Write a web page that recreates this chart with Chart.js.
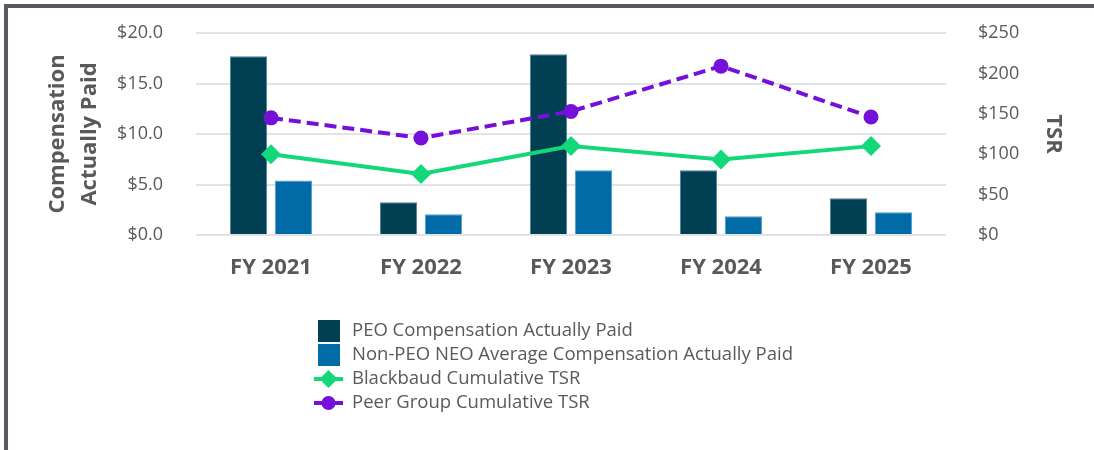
<!DOCTYPE html>
<html>
<head>
<meta charset="utf-8">
<script src="https://cdn.jsdelivr.net/npm/chart.js@4.4.0/dist/chart.umd.min.js"></script>
<style>
  html, body { margin: 0; padding: 0; background: #fff; }
  #wrap { width: 1094px; height: 450px; }
</style>
</head>
<body>
<div id="wrap"><canvas id="chart" width="1094" height="450"></canvas></div>
<script>
// Dados do gráfico
const categories = ['FY 2021', 'FY 2022', 'FY 2023', 'FY 2024', 'FY 2025'];
const peoCap = [17.7, 3.25, 17.9, 6.4, 3.65];
const neoCap = [5.4, 2.05, 6.4, 1.85, 2.25];
const blackbaudTsr = [100, 75.5, 110, 93.5, 110];
const peerTsr = [145, 120, 153, 209, 146];

const seriesLabels = [
    'PEO Compensation Actually Paid',
    'Non-PEO NEO Average Compensation Actually Paid',
    'Blackbaud Cumulative TSR',
    'Peer Group Cumulative TSR'
];
const leftTitle = ['Compensation', 'Actually Paid'];
const rightTitle = 'TSR';

const textColor = '#595959';
const fontFamily = '"Open Sans", sans-serif';

// Moldura cinza (topo e esquerda) e fundo branco
const framePlugin = {
    id: 'frame',
    beforeDraw(chart) {
        const ctx = chart.ctx;
        ctx.save();
        ctx.fillStyle = '#fff';
        ctx.fillRect(0, 0, chart.width, chart.height);
        ctx.fillStyle = '#575b61';
        ctx.fillRect(4, 4, chart.width - 4, 4);
        ctx.fillRect(4, 4, 4, chart.height - 4);
        ctx.restore();
    }
};

// Legenda vertical abaixo do gráfico
const legendPlugin = {
    id: 'stackedLegend',
    afterDraw(chart) {
        const ctx = chart.ctx;
        const x0 = 314;
        const rowY = [331, 355, 379, 403];
        ctx.save();
        ctx.font = '18.5px ' + fontFamily;
        ctx.textBaseline = 'middle';
        chart.data.datasets.forEach((ds, i) => {
            const y = rowY[i];
            if (ds.type === 'bar') {
                ctx.fillStyle = ds.backgroundColor;
                ctx.fillRect(x0 + 4, y - 11, 22, 22);
            } else {
                ctx.strokeStyle = ds.borderColor;
                ctx.lineWidth = 4;
                ctx.setLineDash([]);
                ctx.beginPath();
                ctx.moveTo(x0, y);
                ctx.lineTo(x0 + 29, y);
                ctx.stroke();
                ctx.fillStyle = ds.pointBackgroundColor;
                Chart.helpers.drawPoint(ctx, {
                    pointStyle: ds.pointStyle,
                    radius: ds.pointStyle === 'circle' ? 7 : 9,
                    rotation: 0,
                    borderWidth: 0
                }, x0 + 14.5, y);
            }
            ctx.fillStyle = textColor;
            ctx.fillText(ds.label, 352, y);
        });
        ctx.restore();
    }
};

const ctx = document.getElementById('chart').getContext('2d');
new Chart(ctx, {
    data: {
        labels: categories,
        datasets: [
            {
                type: 'bar',
                label: seriesLabels[0],
                data: peoCap,
                yAxisID: 'y',
                backgroundColor: '#014052',
                borderColor: '#4d7f8f',
                borderWidth: 1,
                categoryPercentage: 0.6,
                barPercentage: 0.83,
                order: 2
            },
            {
                type: 'bar',
                label: seriesLabels[1],
                data: neoCap,
                yAxisID: 'y',
                backgroundColor: '#006ba6',
                borderColor: '#4f9cc6',
                borderWidth: 1,
                categoryPercentage: 0.6,
                barPercentage: 0.83,
                order: 2
            },
            {
                type: 'line',
                label: seriesLabels[2],
                data: blackbaudTsr,
                yAxisID: 'y1',
                borderColor: '#12d87a',
                backgroundColor: '#12d87a',
                pointBackgroundColor: '#12d87a',
                pointBorderWidth: 0,
                borderWidth: 4,
                pointStyle: 'rectRot',
                pointRadius: 10,
                tension: 0,
                order: 1
            },
            {
                type: 'line',
                label: seriesLabels[3],
                data: peerTsr,
                yAxisID: 'y1',
                borderColor: '#7510db',
                backgroundColor: '#7510db',
                pointBackgroundColor: '#7510db',
                pointBorderWidth: 0,
                borderWidth: 4,
                borderDash: [12, 6],
                pointStyle: 'circle',
                pointRadius: 7.5,
                tension: 0,
                order: 0
            }
        ]
    },
    options: {
        responsive: false,
        animation: false,
        devicePixelRatio: 1,
        layout: { padding: { top: 33, bottom: 165, left: 0, right: 0 } },
        plugins: {
            legend: { display: false },
            tooltip: { enabled: false }
        },
        scales: {
            x: {
                grid: { display: false, drawTicks: false },
                border: { display: false },
                ticks: {
                    color: textColor,
                    padding: 20,
                    font: { family: fontFamily, size: 22, weight: 'bold' }
                },
                afterFit: s => { s.height = 50; }
            },
            y: {
                position: 'left',
                min: 0,
                max: 20,
                grid: { color: '#e3e3e3', lineWidth: 2, tickLength: 30, tickColor: 'transparent' },
                border: { display: false },
                ticks: {
                    stepSize: 5,
                    color: textColor,
                    padding: 3,
                    font: { family: fontFamily, size: 18 },
                    callback: v => '$' + v.toFixed(1)
                },
                title: {
                    display: true,
                    text: leftTitle,
                    color: textColor,
                    font: { family: fontFamily, size: 22, weight: 'bold', lineHeight: 1.45 },
                    padding: { top: 42, bottom: 0 }
                },
                afterFit: s => { s.width = 196; }
            },
            y1: {
                position: 'right',
                min: 0,
                max: 250,
                grid: { display: false, tickLength: 29, tickColor: 'transparent' },
                border: { display: false },
                ticks: {
                    stepSize: 50,
                    color: textColor,
                    padding: 3,
                    font: { family: fontFamily, size: 18 },
                    callback: v => '$' + v
                },
                title: {
                    display: true,
                    text: rightTitle,
                    color: textColor,
                    font: { family: fontFamily, size: 22, weight: 'bold', lineHeight: 1.45 },
                    padding: { top: 25, bottom: 0 }
                },
                afterFit: s => { s.width = 148; }
            }
        }
    },
    plugins: [framePlugin, legendPlugin]
});
</script>
</body>
</html>
